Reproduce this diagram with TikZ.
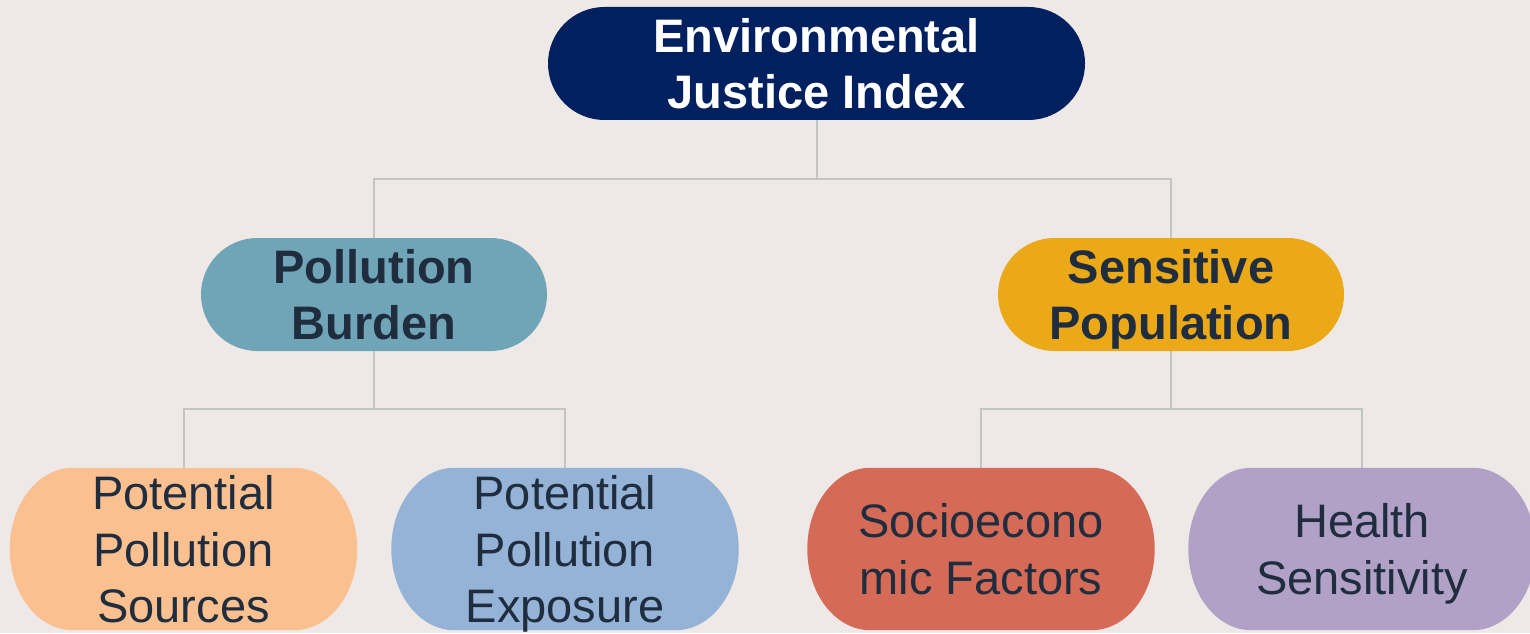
\documentclass[tikz,border=0pt]{standalone}
\usepackage{fontspec}
\setmainfont{Liberation Sans}
\usetikzlibrary{calc,backgrounds}
\definecolor{bg}{HTML}{EEE9E6}
\definecolor{navy}{HTML}{00205F}
\definecolor{teal}{HTML}{6FA5B6}
\definecolor{gold}{HTML}{EBA917}
\definecolor{peach}{HTML}{FAC090}
\definecolor{skyb}{HTML}{95B3D7}
\definecolor{brick}{HTML}{D56B57}
\definecolor{lilac}{HTML}{B1A1C7}
\definecolor{ink}{HTML}{1F2D3F}
\definecolor{wire}{HTML}{C4C4C4}
\tikzset{
  pill/.style={rounded corners=56.5pt, minimum height=113pt, inner sep=0pt, align=center,
    text depth=0pt, font=\fontsize{47}{56}\selectfont\bfseries},
  leaf/.style={minimum width=347pt, minimum height=162pt, inner sep=0pt, align=center,
    text depth=0pt, text=ink, font=\fontsize{47}{56.5}\selectfont},
  wireline/.style={draw=wire, line width=2pt}
}
\newcommand{\blobfill}[4]{%
  \fill[#2] ($(#1.north west)+(#3,0)$) -- ($(#1.north east)+(-#3,0)$)
    arc[start angle=90,end angle=0,x radius=#3,y radius=#4]
    -- ($(#1.south east)+(0,#4)$)
    arc[start angle=0,end angle=-90,x radius=#3,y radius=#4]
    -- ($(#1.south west)+(#3,0)$)
    arc[start angle=270,end angle=180,x radius=#3,y radius=#4]
    -- ($(#1.north west)+(0,-#4)$)
    arc[start angle=180,end angle=90,x radius=#3,y radius=#4] -- cycle;}
\begin{document}
\begin{tikzpicture}[x=1pt,y=1pt]
\useasboundingbox (0,0) rectangle (1530,633);
\begin{pgfonlayer}{background}
\fill[bg] (0,0) rectangle (1530,633);
\end{pgfonlayer}
% top
\node[pill, fill=navy, text=white, minimum width=537pt] (eji) at (816.5,569.5) {Environmental\\Justice Index};
\node[pill, fill=teal, text=ink, minimum width=346pt] (pb) at (374,338.5) {Pollution\\Burden};
\node[pill, fill=gold, text=ink, minimum width=346pt] (sp) at (1171,338.5) {Sensitive\\Population};
% leaves
\node[leaf] (pps) at (183.5,84) {Potential\\Pollution\\Sources};
\node[leaf] (ppe) at (565,84) {Potential\\Pollution\\Exposure};
\node[leaf] (sef) at (981,84) {Socioecono\\mic Factors};
\node[leaf] (hs) at (1362,84) {Health\\Sensitivity};
\begin{pgfonlayer}{background}
\coordinate (j1) at ($(eji.south)+(0,-59)$);
\coordinate (j2) at ($(pb.south)+(0,-58)$);
\coordinate (j3) at ($(sp.south)+(0,-58)$);
\draw[wireline] (eji.south) -- (j1);
\draw[wireline] (pb.north) |- (j1) -| (sp.north);
\draw[wireline] (pb.south) -- (j2);
\draw[wireline] (pps.north) |- (j2) -| (ppe.north);
\draw[wireline] (sp.south) -- (j3);
\draw[wireline] (sef.north) |- (j3) -| (hs.north);
\blobfill{pps}{peach}{63}{81}
\blobfill{ppe}{skyb}{63}{81}
\blobfill{sef}{brick}{63}{81}
\blobfill{hs}{lilac}{63}{81}
\end{pgfonlayer}
\end{tikzpicture}
\end{document}
